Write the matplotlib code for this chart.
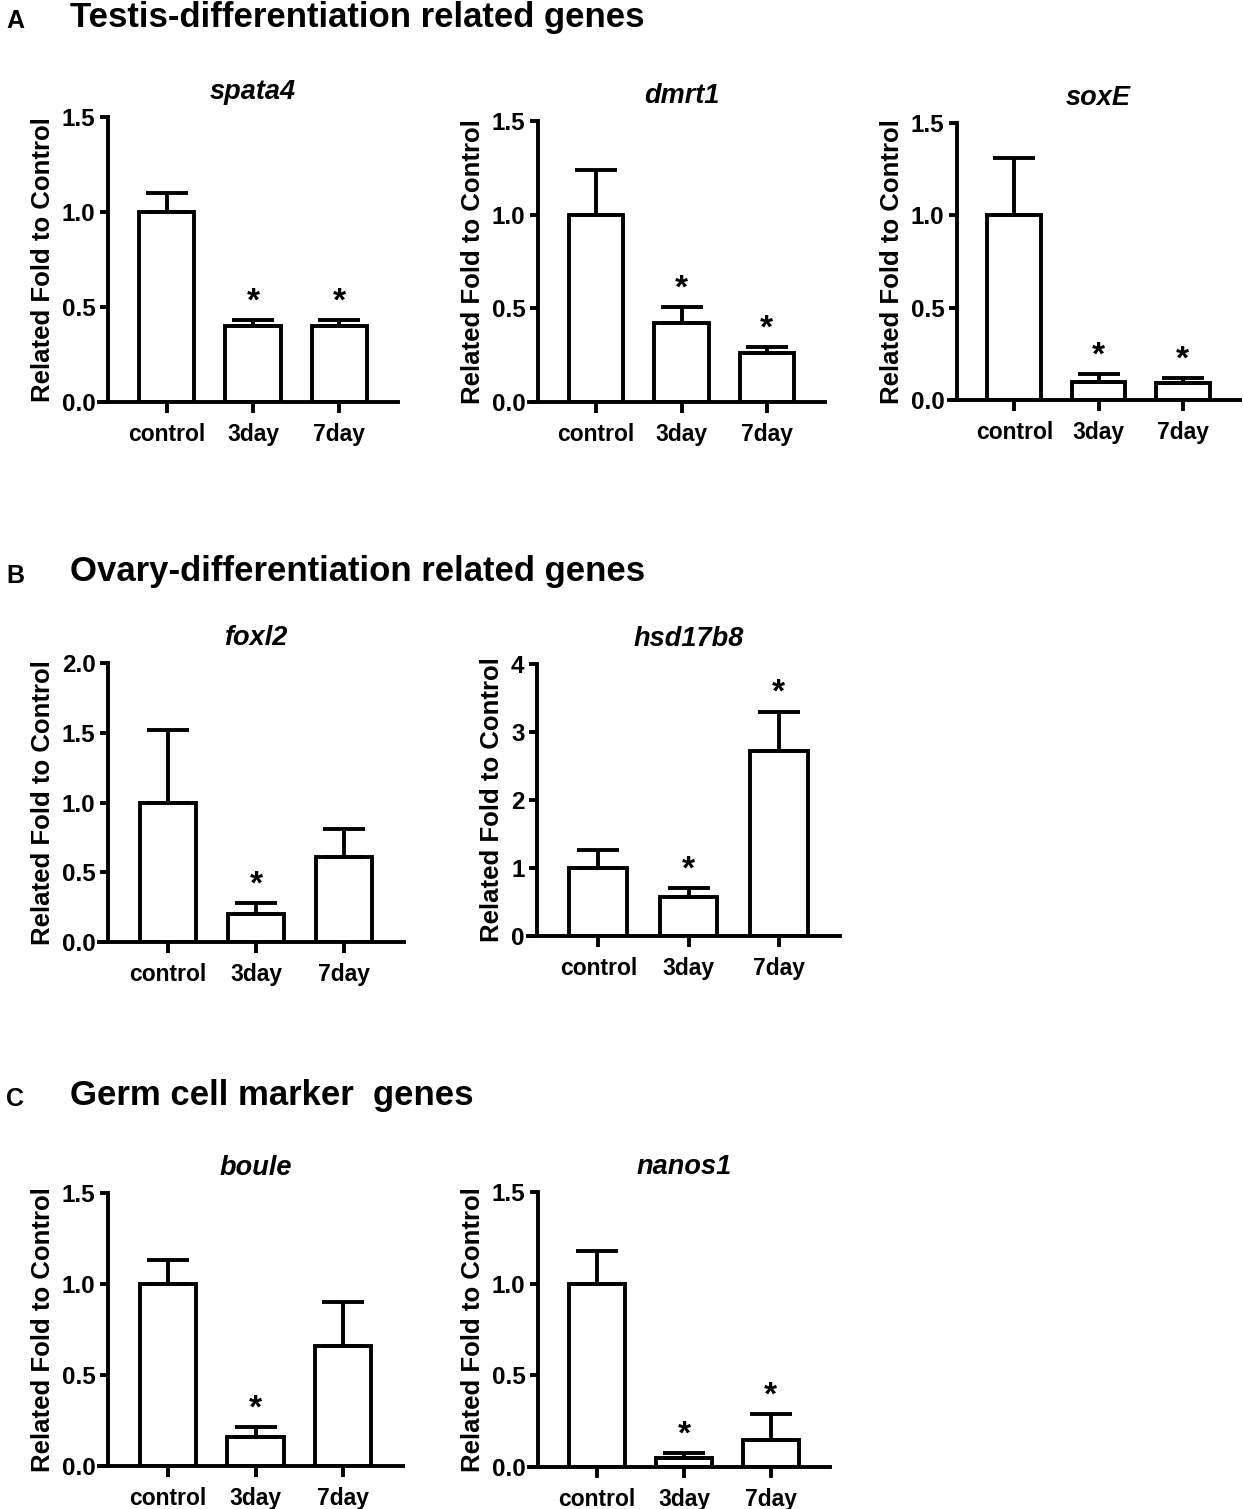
import numpy as np
import matplotlib
matplotlib.use('Agg')
from matplotlib import pyplot as plt

# Dados
grupos = ['control', '3day', '7day']

spata4_media = [1.0, 0.40, 0.40]
spata4_erro = [0.10, 0.03, 0.03]
spata4_sig = [False, True, True]

dmrt1_media = [1.0, 0.42, 0.26]
dmrt1_erro = [0.24, 0.085, 0.035]
dmrt1_sig = [False, True, True]

soxE_media = [1.0, 0.10, 0.09]
soxE_erro = [0.31, 0.04, 0.03]
soxE_sig = [False, True, True]

foxl2_media = [1.0, 0.20, 0.61]
foxl2_erro = [0.52, 0.08, 0.20]
foxl2_sig = [False, True, False]

hsd17b8_media = [1.0, 0.58, 2.72]
hsd17b8_erro = [0.26, 0.13, 0.58]
hsd17b8_sig = [False, True, True]

boule_media = [1.0, 0.16, 0.66]
boule_erro = [0.13, 0.055, 0.24]
boule_sig = [False, True, False]

nanos1_media = [1.0, 0.05, 0.15]
nanos1_erro = [0.18, 0.025, 0.14]
nanos1_sig = [False, True, True]

# eixo y de cada painel
ticks_15 = [0.0, 0.5, 1.0, 1.5]
ticks_20 = [0.0, 0.5, 1.0, 1.5, 2.0]
ticks_4 = [0, 1, 2, 3, 4]

# Layout em pixels: (esq, dir, topo, base)
W, H = 1243, 1509
paineis = [
    ('spata4', spata4_media, spata4_erro, spata4_sig, ticks_15, '%.1f', (108, 398, 117, 402)),
    ('dmrt1', dmrt1_media, dmrt1_erro, dmrt1_sig, ticks_15, '%.1f', (538, 825, 121, 402)),
    ('soxE', soxE_media, soxE_erro, soxE_sig, ticks_15, '%.1f', (957, 1240, 123, 400)),
    ('foxl2', foxl2_media, foxl2_erro, foxl2_sig, ticks_20, '%.1f', (108, 404, 663, 942)),
    ('hsd17b8', hsd17b8_media, hsd17b8_erro, hsd17b8_sig, ticks_4, '%d', (537, 840, 664, 936)),
    ('boule', boule_media, boule_erro, boule_sig, ticks_15, '%.1f', (108, 403, 1193, 1466)),
    ('nanos1', nanos1_media, nanos1_erro, nanos1_sig, ticks_15, '%.1f', (538, 830, 1192, 1467)),
]

plt.rcParams['font.family'] = ['Liberation Sans', 'DejaVu Sans']
plt.rcParams['font.weight'] = 'bold'

fig = plt.figure(figsize=(W / 100, H / 100), dpi=100)
lw = 2.8

for nome, media, erro, sig, ticks, fmt, (x0, x1, y0, y1) in paineis:
    ax = fig.add_axes([x0 / W, 1 - y1 / H, (x1 - x0) / W, (y1 - y0) / H])
    x = np.arange(len(grupos))
    ax.bar(x, media, width=0.64, color='white', edgecolor='black', linewidth=lw, zorder=2)
    ax.errorbar(x, media, yerr=[np.zeros(len(media)), erro], fmt='none', ecolor='black',
                elinewidth=lw, capsize=15, capthick=lw, zorder=3)
    for i in range(len(grupos)):
        if sig[i]:
            ax.annotate('*', (x[i], media[i] + erro[i]), xytext=(0, 13), textcoords='offset points',
                        ha='center', va='center', fontsize=24, fontweight='bold')
    ax.set_xlim(-0.68, 2.68)
    ax.set_ylim(ticks[0], ticks[-1])
    ax.set_yticks(ticks)
    ax.set_yticklabels([fmt % t for t in ticks])
    ax.set_xticks(x)
    ax.set_xticklabels(grupos)
    ax.spines['top'].set_visible(False)
    ax.spines['right'].set_visible(False)
    ax.spines['left'].set_linewidth(lw)
    ax.spines['bottom'].set_linewidth(lw)
    ax.spines['bottom'].set_bounds(-0.78, 2.68)
    ax.tick_params(axis='y', length=6, width=lw, labelsize=17.5, pad=3)
    ax.tick_params(axis='x', length=8, width=lw, labelsize=16.5, pad=7)
    for lab in ax.get_xticklabels() + ax.get_yticklabels():
        lab.set_fontweight('bold')
    ax.set_ylabel('Related Fold to Control', fontsize=18.5, fontweight='bold', labelpad=5)
    ax.set_title(nome, fontsize=19.5, fontweight='bold', style='italic', pad=13)

# Títulos das seções
fonte_titulo = ['Liberation Sans Narrow', 'Liberation Sans']
secoes = [('A', 'Testis-differentiation related genes', 17),
          ('B', 'Ovary-differentiation related genes', 572),
          ('C', 'Germ cell marker  genes', 1095)]
for letra, texto, y in secoes:
    fig.text(6 / W, 1 - (y + 4) / H, letra, fontsize=18, fontweight='bold', va='center',
             family=fonte_titulo)
    fig.text(70 / W, 1 - y / H, texto, fontsize=25, fontweight='bold', va='center',
             family=fonte_titulo)

plt.savefig('out.png', dpi=100)
